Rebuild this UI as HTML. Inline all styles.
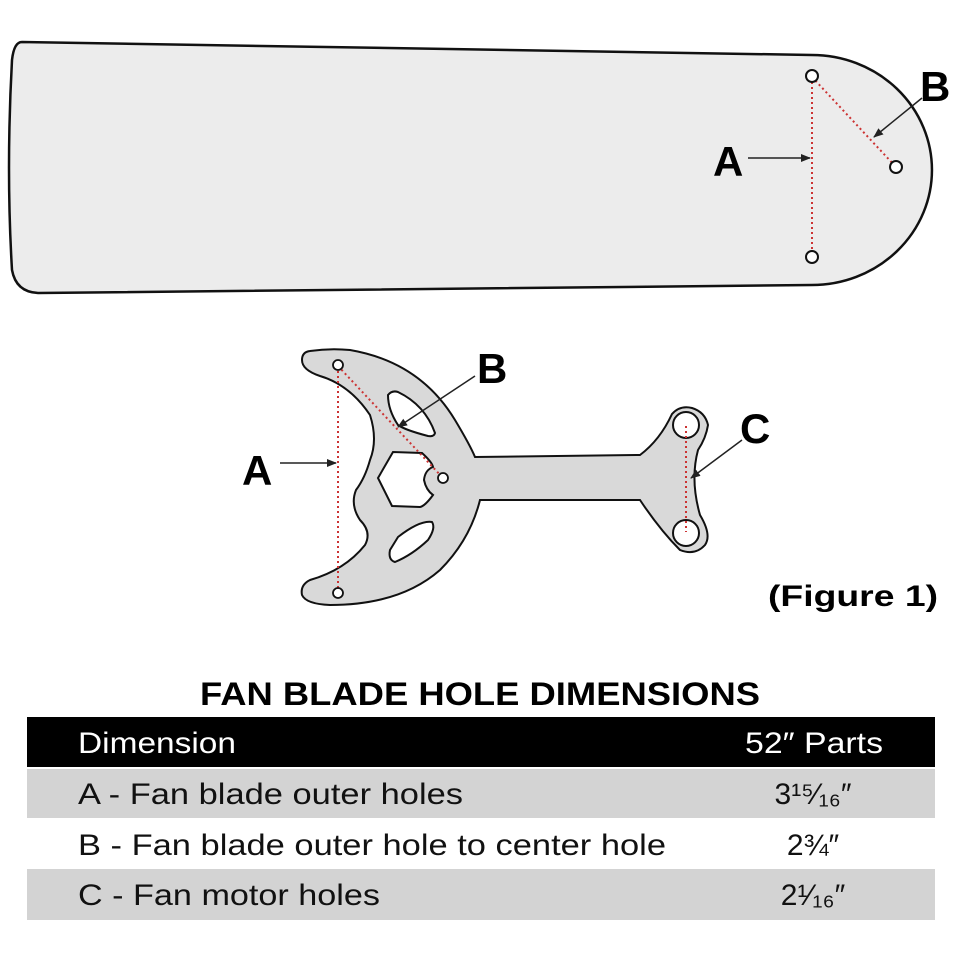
<!DOCTYPE html>
<html><head><meta charset="utf-8"><style>html,body{margin:0;padding:0;background:#fff;}svg{display:block}</style></head>
<body>
<svg width="960" height="960" viewBox="0 0 960 960" xmlns="http://www.w3.org/2000/svg" font-family="Liberation Sans, sans-serif">
<defs><marker id="ar" markerWidth="10" markerHeight="8" refX="9" refY="4" orient="auto" markerUnits="userSpaceOnUse"><path d="M0,0 L10,4 L0,8 Z" fill="#222"/></marker></defs>
<!-- blade -->
<path d="M22,42 L812,55 A120,115 0 0 1 812,285 L38,293 Q16,292 12,270 Q6,170 12,60 Q14,42 22,42 Z" fill="#ececec" stroke="#111" stroke-width="2.5"/>
<line x1="812" y1="77" x2="812" y2="256" stroke="#c33" stroke-width="2" stroke-dasharray="2,3"/>
<line x1="812" y1="77" x2="896" y2="167" stroke="#c33" stroke-width="2" stroke-dasharray="2,3"/>
<circle cx="812" cy="76" r="6" fill="#fff" stroke="#111" stroke-width="2"/>
<circle cx="812" cy="257" r="6" fill="#fff" stroke="#111" stroke-width="2"/>
<circle cx="896" cy="167" r="6" fill="#fff" stroke="#111" stroke-width="2"/>
<line x1="748" y1="158" x2="810" y2="158" stroke="#222" stroke-width="1.5" marker-end="url(#ar)"/>
<line x1="922" y1="98" x2="874" y2="137" stroke="#222" stroke-width="1.5" marker-end="url(#ar)"/>
<text x="713" y="176" font-size="42" font-weight="bold">A</text>
<text x="920" y="101" font-size="42" font-weight="bold">B</text>
<!-- bracket -->
<path d="M310,351 Q330,348 350,350 Q420,362 455,420 Q470,445 475,457 L640,455 Q660,440 672,414 Q680,405 692,408 Q705,412 708,425 Q706,438 698,450 Q690,480 700,515 Q712,535 705,545 Q695,556 680,550 Q660,530 640,500 L480,500 Q470,540 440,570 Q400,605 330,605 Q306,604 302,595 Q300,585 310,580 Q345,570 365,545 Q372,532 360,520 Q350,505 356,490 Q365,478 370,460 Q378,440 370,415 Q350,385 320,376 Q302,370 302,360 Q302,352 310,351 Z" fill="#d9d9d9" stroke="#111" stroke-width="2"/>
<path d="M388,395 Q392,390 398,392 Q425,405 435,433 Q434,437 428,436 Q405,430 398,425 Q388,410 388,395 Z" fill="#fff" stroke="#111" stroke-width="2"/>
<path d="M378,478 L393,452 L422,453 Q432,462 433,467 Q425,470 424,480 Q426,490 433,495 Q425,506 420,507 L392,506 Z" fill="#fff" stroke="#111" stroke-width="2"/>
<path d="M398,537 Q420,520 432,522 Q436,528 428,540 Q412,555 395,562 Q388,560 390,550 Z" fill="#fff" stroke="#111" stroke-width="2"/>
<line x1="338" y1="366" x2="338" y2="592" stroke="#c33" stroke-width="2" stroke-dasharray="2,3"/>
<line x1="338" y1="366" x2="443" y2="478" stroke="#c33" stroke-width="2" stroke-dasharray="2,3"/>
<circle cx="338" cy="365" r="5" fill="#fff" stroke="#111" stroke-width="1.8"/>
<circle cx="338" cy="593" r="5" fill="#fff" stroke="#111" stroke-width="1.8"/>
<circle cx="443" cy="478" r="5" fill="#fff" stroke="#111" stroke-width="1.8"/>
<circle cx="686" cy="425" r="13" fill="#fff" stroke="#111" stroke-width="2"/>
<circle cx="686" cy="533" r="13" fill="#fff" stroke="#111" stroke-width="2"/>
<line x1="686" y1="426" x2="686" y2="532" stroke="#c33" stroke-width="2" stroke-dasharray="2,3"/>
<line x1="280" y1="463" x2="336" y2="463" stroke="#222" stroke-width="1.5" marker-end="url(#ar)"/>
<line x1="475" y1="376" x2="398" y2="427" stroke="#222" stroke-width="1.5" marker-end="url(#ar)"/>
<line x1="742" y1="440" x2="691" y2="478" stroke="#222" stroke-width="1.5" marker-end="url(#ar)"/>
<text x="242" y="485" font-size="42" font-weight="bold">A</text>
<text x="477" y="383" font-size="42" font-weight="bold">B</text>
<text x="740" y="443" font-size="42" font-weight="bold">C</text>
<text x="768" y="606" font-size="30" font-weight="bold" textLength="170" lengthAdjust="spacingAndGlyphs">(Figure 1)</text>
<!-- table -->
<text x="480" y="705" font-size="32" font-weight="bold" text-anchor="middle" textLength="560" lengthAdjust="spacingAndGlyphs">FAN BLADE HOLE DIMENSIONS</text>
<rect x="27" y="717" width="908" height="50" fill="#000"/>
<rect x="27" y="769" width="908" height="49" fill="#d3d3d3"/>
<rect x="27" y="869" width="908" height="51" fill="#d3d3d3"/>
<g font-size="30">
<text x="78" y="753" fill="#fff" textLength="158" lengthAdjust="spacingAndGlyphs">Dimension</text>
<text x="745" y="753" fill="#fff" textLength="138" lengthAdjust="spacingAndGlyphs">52″ Parts</text>
<text x="78" y="804" fill="#111" textLength="385" lengthAdjust="spacingAndGlyphs">A - Fan blade outer holes</text>
<text x="78" y="855" fill="#111" textLength="588" lengthAdjust="spacingAndGlyphs">B - Fan blade outer hole to center hole</text>
<text x="78" y="905" fill="#111" textLength="302" lengthAdjust="spacingAndGlyphs">C - Fan motor holes</text>
<text x="813" y="804" fill="#111" text-anchor="middle">3¹⁵⁄₁₆″</text>
<text x="813" y="855" fill="#111" text-anchor="middle">2¾″</text>
<text x="813" y="905" fill="#111" text-anchor="middle">2¹⁄₁₆″</text>
</g>
</svg>
</body></html>
